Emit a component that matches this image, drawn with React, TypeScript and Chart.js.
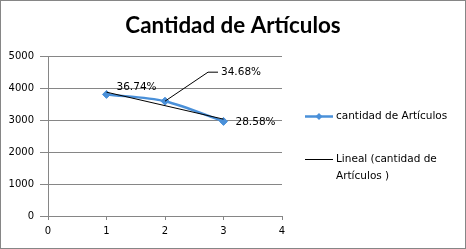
import React, { useEffect, useRef } from "react";
import { Chart, registerables } from "chart.js";

Chart.register(...registerables);

const titleText = "Cantidad de Artículos";
const xValues = [1, 2, 3];
const cantidad = [3800, 3588, 2956];
const pctLabels = ["36.74%", "34.68%", "28.58%"];
const seriesName = "cantidad de Artículos";
const trendLines = ["Lineal (cantidad de", "Artículos )"];
const xMin = 0, xMax = 4, xStep = 1;
const yMin = 0, yMax = 5000, yStep = 1000;

const BLUE = "#4A90D9";
const GRID = "#868686";
const FONT = '"DejaVu Sans", sans-serif';

function linearTrend(xs: number[], ys: number[]) {
  const n = xs.length;
  const mx = xs.reduce((a, b) => a + b, 0) / n;
  const my = ys.reduce((a, b) => a + b, 0) / n;
  let num = 0, den = 0;
  for (let i = 0; i < n; i++) {
    num += (xs[i] - mx) * (ys[i] - my);
    den += (xs[i] - mx) * (xs[i] - mx);
  }
  const slope = num / den;
  const icpt = my - slope * mx;
  return [xs[0], xs[n - 1]].map((x) => ({ x, y: icpt + slope * x }));
}

const labelOffsets = [
  { dx: 10, dy: -7, leader: false },
  { dx: 56, dy: -29, leader: true },
  { dx: 12, dy: 1, leader: false },
];

const decor = {
  id: "decor",
  afterDatasetsDraw(chart: any) {
    const ctx = chart.ctx as CanvasRenderingContext2D;
    const meta = chart.getDatasetMeta(0);
    ctx.save();
    ctx.font = `10.5px ${FONT}`;
    ctx.fillStyle = "#000";
    ctx.textBaseline = "middle";
    ctx.textAlign = "left";
    meta.data.forEach((pt: any, i: number) => {
      const o = labelOffsets[i];
      const px = pt.x, py = pt.y;
      if (o.leader) {
        ctx.strokeStyle = "#000";
        ctx.lineWidth = 1;
        ctx.beginPath();
        ctx.moveTo(px, py);
        ctx.lineTo(px + 43, py + o.dy);
        ctx.lineTo(px + 53, py + o.dy);
        ctx.stroke();
      }
      ctx.fillText(pctLabels[i], px + o.dx, py + o.dy);
    });
    ctx.restore();
  },
  afterDraw(chart: any) {
    const ctx = chart.ctx as CanvasRenderingContext2D;
    const W = chart.width, H = chart.height;
    ctx.save();
    // title
    ctx.font = `bold 22.4px Lato, sans-serif`;
    ctx.fillStyle = "#000";
    ctx.textAlign = "center";
    ctx.textBaseline = "middle";
    ctx.fillText(titleText, W / 2, 26);
    // legend
    ctx.textAlign = "left";
    ctx.font = `10.5px ${FONT}`;
    const lx0 = 305, lx1 = 333, tx = 336;
    const y1 = 116.5, y2 = 159.5;
    ctx.strokeStyle = BLUE;
    ctx.lineWidth = 2.5;
    ctx.beginPath();
    ctx.moveTo(lx0, y1);
    ctx.lineTo(lx1, y1);
    ctx.stroke();
    const cx = (lx0 + lx1) / 2;
    ctx.fillStyle = BLUE;
    ctx.beginPath();
    ctx.moveTo(cx, y1 - 3.5);
    ctx.lineTo(cx + 3.5, y1);
    ctx.lineTo(cx, y1 + 3.5);
    ctx.lineTo(cx - 3.5, y1);
    ctx.closePath();
    ctx.fill();
    ctx.fillStyle = "#000";
    ctx.fillText(seriesName, tx, y1);
    ctx.strokeStyle = "#000";
    ctx.lineWidth = 1;
    ctx.beginPath();
    ctx.moveTo(lx0, y2);
    ctx.lineTo(lx1, y2);
    ctx.stroke();
    ctx.fillText(trendLines[0], tx, y2);
    ctx.fillText(trendLines[1], tx, y2 + 17);
    // frame
    ctx.strokeStyle = GRID;
    ctx.lineWidth = 1;
    ctx.strokeRect(0.5, 0.5, W - 1, H - 1);
    ctx.restore();
  },
};

export default function App() {
  const ref = useRef<HTMLCanvasElement | null>(null);
  useEffect(() => {
    if (!ref.current) return;
    const points = xValues.map((x, i) => ({ x, y: cantidad[i] }));
    const trend = linearTrend(xValues, cantidad);
    const tickFont = { family: FONT, size: 10 };
    const chart = new Chart(ref.current, {
      type: "scatter",
      data: {
        datasets: [
          {
            label: seriesName,
            data: points,
            showLine: true,
            borderColor: BLUE,
            backgroundColor: BLUE,
            borderWidth: 2.5,
            pointStyle: "rectRot",
            pointRadius: 4,
            pointBorderWidth: 1,
            tension: 0.3,
            order: 1,
          },
          {
            label: trendLines.join(" "),
            data: trend,
            showLine: true,
            borderColor: "#000",
            borderWidth: 1,
            pointRadius: 0,
            tension: 0,
            order: 0,
          },
        ],
      },
      options: {
        responsive: false,
        animation: false,
        devicePixelRatio: 1,
        layout: { padding: { top: 56, right: 184, left: 0, bottom: 0 } },
        plugins: {
          legend: { display: false },
          title: { display: false },
          tooltip: { enabled: false },
        },
        scales: {
          x: {
            type: "linear",
            min: xMin,
            max: xMax,
            ticks: { stepSize: xStep, font: tickFont, color: "#000", padding: 5, callback: (v: any) => String(v) },
            grid: { drawOnChartArea: false, drawTicks: true, tickLength: 4, color: GRID },
            border: { color: GRID },
            afterFit: (s: any) => {
              s.height = 33;
            },
          },
          y: {
            min: yMin,
            max: yMax,
            ticks: { stepSize: yStep, font: tickFont, color: "#000", padding: 6, callback: (v: any) => String(v) },
            grid: { color: GRID, tickLength: 8 },
            border: { color: GRID },
            afterFit: (s: any) => {
              s.width = 48;
            },
          },
        },
      },
      plugins: [decor],
    } as any);
    return () => chart.destroy();
  }, []);
  return (
    <div style={{ position: "absolute", left: 0, top: 0, width: 466, height: 249, background: "#fff" }}>
      <canvas ref={ref} width={466} height={249} />
    </div>
  );
}
